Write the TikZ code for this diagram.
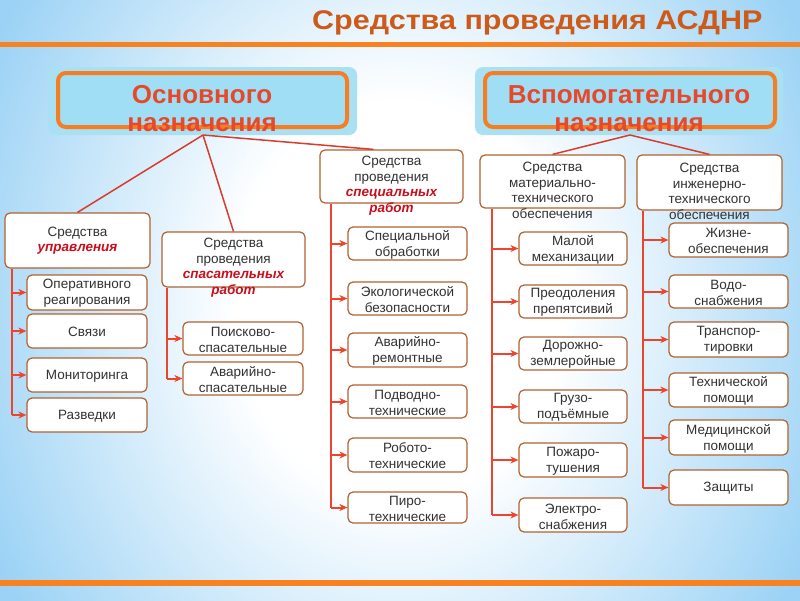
\documentclass[tikz,border=0pt]{standalone}
\usepackage{fontspec}
\setmainfont{Liberation Sans}
\usetikzlibrary{arrows.meta,calc}
\definecolor{bgblue}{RGB}{155,210,245}
\definecolor{orangeline}{RGB}{248,130,32}
\definecolor{titlecol}{RGB}{205,90,25}
\definecolor{hdrred}{RGB}{232,72,42}
\definecolor{hdrfill}{RGB}{160,222,245}
\definecolor{hdrout}{RGB}{170,224,244}
\definecolor{hdrbrd}{RGB}{245,125,35}
\definecolor{boxbrd}{RGB}{176,98,50}
\definecolor{txtgray}{RGB}{50,50,50}
\definecolor{redtxt}{RGB}{200,15,30}
\definecolor{arrred}{RGB}{235,70,45}
\definecolor{linkred}{RGB}{215,60,45}
\pgfdeclareradialshading{bgsh}{\pgfpoint{0bp}{0bp}}{color(0bp)=(white); color(9bp)=(white); color(25bp)=(bgblue); color(50bp)=(bgblue)}
\newcommand\rbi[1]{\textcolor{redtxt}{\bfseries\itshape #1}}
\newcommand\bx[8][0]{%
  \node[cbox, minimum width={#5pt-#3pt}, minimum height={#6pt-#4pt}] (#2) at ({(#3+#5)/2},{(#4+#6)/2}) {};
  \node[#7] (#2-t) at ($(#2.center)+(0,#1)$) {#8};}
\tikzset{
  cbox/.style={draw=boxbrd, line width=1.2pt, fill=white, rounded corners=5pt, inner sep=0pt},
  ctext/.style={text=txtgray, align=center, font=\fontsize{13.5}{16}\selectfont, inner sep=0pt},
  ptext/.style={text=txtgray, align=center, font=\fontsize{13.5}{15.5}\selectfont, inner sep=0pt},
  trunk/.style={draw=arrred, line width=2pt},
  arr/.style={draw=arrred, line width=2pt, -{Stealth[length=8pt,width=7pt,inset=2.5pt]}},
  hlink/.style={draw=linkred, line width=1.5pt},
  hout/.style={fill=hdrout, rounded corners=8pt, inner sep=0pt},
  hin/.style={draw=hdrbrd, line width=4pt, fill=hdrfill, rounded corners=8pt, inner sep=0pt},
  htext/.style={text=hdrred, align=center, font=\fontsize{26}{28}\selectfont\bfseries, inner sep=0pt},
}
\begin{document}
\begin{tikzpicture}[x=1pt,y=-1pt]
\useasboundingbox (0,0) rectangle (800,600);
\begin{scope}
\clip (0,0) rectangle (800,600);
\shade[shading=bgsh] (-60,-250) rectangle (860,850);
\end{scope}
\fill[orangeline] (0,42) rectangle (800,47);
\fill[orangeline] (0,580) rectangle (800,586);
\node[anchor=west, text=titlecol, font=\fontsize{27}{29}\selectfont\bfseries, inner sep=0pt] (title) at (312,23) {\scalebox{1.13}[1]{Средства проведения АСДНР}};

% headers
\node[hout, minimum width=309pt, minimum height=68pt] (hLo) at (202.5,101) {};
\node[hin, minimum width=289pt, minimum height=54pt] (hLi) at (202.5,100) {};
\node[htext] (hLt) at (202,109) {Основного\\назначения};
\node[hout, minimum width=308pt, minimum height=68pt] (hRo) at (629,101) {};
\node[hin, minimum width=290pt, minimum height=54pt] (hRi) at (630,100) {};
\node[htext] (hRt) at (629,109) {Вспомогательного\\назначения};
\coordinate (oL) at (203,135);
\coordinate (oR) at (630,135);

% parent boxes
\bx{upr}{5}{213}{150}{268}{ptext}{Средства\\\rbi{управления}}
\bx[8]{spas}{162}{232}{305}{287}{ptext}{Средства\\проведения\\\rbi{спасательных}\\\rbi{работ}}
\bx[9]{spec}{320}{150}{463}{203}{ptext}{Средства\\проведения\\\rbi{специальных}\\\rbi{работ}}
\bx[9]{mat}{480}{155}{625}{208}{ptext}{Средства\\материально-\\технического\\обеспечения}
\bx[9]{ing}{637}{155}{782}{210}{ptext}{Средства\\инженерно-\\технического\\обеспечения}

\draw[hlink] (oL) -- (upr.north);
\draw[hlink] (oL) -- (spas.north);
\draw[hlink] (oL) -- ($(spec.north)+(-18,0)$);
\draw[hlink] (oR) -- (mat.north);
\draw[hlink] (oR) -- (ing.north);

% column 1
\bx[1]{op}{27}{275}{147}{310}{ctext}{Оперативного\\реагирования}
\bx[1]{sv}{27}{314}{147}{348}{ctext}{Связи}
\bx[1]{mon}{27}{358}{147}{392}{ctext}{Мониторинга}
\bx[1]{raz}{27}{398}{147}{432}{ctext}{Разведки}
\coordinate (tU) at ($(upr.south west)+(8,0)$);
\draw[trunk] (tU) -- (tU |- raz.west);
\foreach \c in {op,sv,mon,raz} \draw[arr] (tU |- \c.west) -- (\c.west);

% column 2
\bx[1]{poi}{183}{322}{303}{355}{ctext}{Поисково-\\спасательные}
\bx[1]{avs}{183}{362}{303}{395}{ctext}{Аварийно-\\спасательные}
\coordinate (tS) at ($(spas.south west)+(6,0)$);
\draw[trunk] (tS) -- (tS |- avs.west);
\foreach \c in {poi,avs} \draw[arr] (tS |- \c.west) -- (\c.west);

% column 3
\bx[1]{s1}{348}{227}{467}{260}{ctext}{Специальной\\обработки}
\bx[1]{s2}{348}{282}{467}{315}{ctext}{Экологической\\безопасности}
\bx[1]{s3}{348}{333}{467}{367}{ctext}{Аварийно-\\ремонтные}
\bx[1]{s4}{348}{385}{467}{418}{ctext}{Подводно-\\технические}
\bx[1]{s5}{348}{438}{467}{472}{ctext}{Робото-\\технические}
\bx[1]{s6}{348}{492}{467}{523}{ctext}{Пиро-\\технические}
\coordinate (tP) at ($(spec.south west)+(12,0)$);
\draw[trunk] (tP) -- (tP |- s6.west);
\foreach \c in {s1,s2,s3,s4,s5,s6} \draw[arr] (tP |- \c.west) -- (\c.west);

% column 4
\bx[1]{m1}{519}{232}{627}{265}{ctext}{Малой\\механизации}
\bx[1]{m2}{519}{285}{627}{318}{ctext}{Преодоления\\препятсивий}
\bx[1]{m3}{519}{337}{627}{370}{ctext}{Дорожно-\\землеройные}
\bx[1]{m4}{519}{390}{627}{423}{ctext}{Грузо-\\подъёмные}
\bx[1]{m5}{519}{443}{627}{477}{ctext}{Пожаро-\\тушения}
\bx[2]{m6}{519}{498}{627}{532}{ctext}{Электро-\\снабжения}
\coordinate (tM) at ($(mat.south west)+(13,0)$);
\draw[trunk] (tM) -- (tM |- m6.west);
\foreach \c in {m1,m2,m3,m4,m5,m6} \draw[arr] (tM |- \c.west) -- (\c.west);

% column 5
\bx[1]{i1}{669}{223}{788}{257}{ctext}{Жизне-\\обеспечения}
\bx[1]{i2}{669}{275}{788}{308}{ctext}{Водо-\\снабжения}
\bx[1]{i3}{669}{322}{788}{357}{ctext}{Транспор-\\тировки}
\bx[1]{i4}{669}{373}{788}{407}{ctext}{Технической\\помощи}
\bx[1]{i5}{669}{420}{788}{455}{ctext}{Медицинской\\помощи}
\bx[1]{i6}{669}{470}{788}{505}{ctext}{Защиты}
\coordinate (tI) at ($(ing.south west)+(7,0)$);
\draw[trunk] (tI) -- (tI |- i6.west);
\foreach \c in {i1,i2,i3,i4,i5,i6} \draw[arr] (tI |- \c.west) -- (\c.west);
\end{tikzpicture}
\end{document}
